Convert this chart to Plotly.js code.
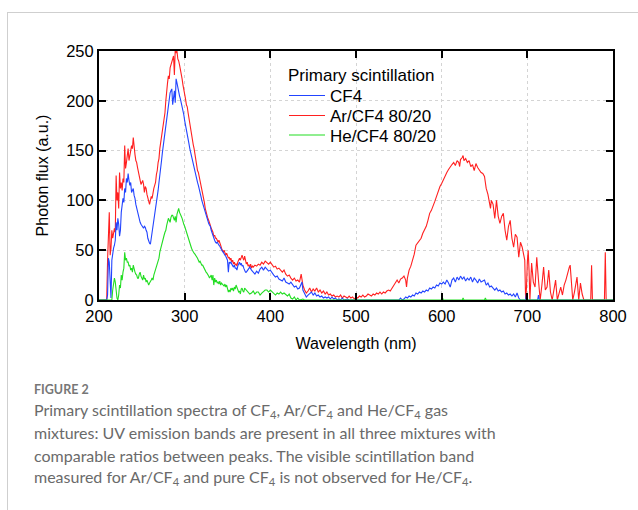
<!DOCTYPE html>
<html>
<head>
<meta charset="utf-8">
<script src="https://cdn.plot.ly/plotly-3.0.1.min.js"></script>
<style>
html,body{margin:0;padding:0;background:#fff;}
#chart{width:638px;height:510px;}
#frame{position:absolute;left:7px;top:12px;width:700px;height:600px;border-left:1px solid #cfcfcf;border-top:1px solid #cfcfcf;pointer-events:none;}
</style>
</head>
<body>
<div id="chart"></div>
<div id="frame"></div>
<script>
// Wavelength (nm) and photon flux (a.u.)
const wl_ar = [200,209,210,211,212,213,214,215,216,218,219,220,221,222,223,224,225,226,227,228,229,230,231,232,233,234,235,236,237,238,239,240,241,242,243,244,245,246,247,248,249,250,251,252,253,254,255,256,257,258,259,260,261,262,263,264,265,266,267,268,269,270,271,272,273,274,275,276,277,278,279,280,281,282,283,284,285,286,287,288,289,290,291,292,293,294,295,296,297,298,299,300,301,302,303,304,305,306,307,308,309,310,311,312,313,314,315,316,317,318,319,320,321,322,323,324,325,326,327,328,329,330,331,332,333,334,335,336,337,338,339,340,341,342,343,344,345,346,347,348,349,350,351,352,353,354,355,356,357,358,359,360,361,362,363,364,365,366,367,368,369,370,371,372,373,374,375,376,377,378,379,380,382,384,386,388,390,392,394,396,398,400,402,404,406,408,410,412,414,416,418,420,422,424,426,428,430,432,434,436,438,440,442,444,446,448,450,452,454,456,458,460,462,464,466,468,470,472,474,476,478,480,482,484,486,488,490,492,494,496,498,500,502,504,506,508,510,512,514,516,518,520,522,524,526,528,530,532,534,536,538,540,542,544,546,548,550,552,554,556,558,559,560,562,564,566,568,570,572,574,576,578,580,582,584,586,588,590,592,594,596,598,600,602,604,606,608,610,612,614,616,618,620,621,622,624,625,626,628,630,632,634,636,638,640,642,644,646,648,650,651,652,654,656,657,658,660,662,664,666,668,670,672,674,676,678,680,682,684,686,688,690,692,694,696,697,698,699,700,701,702,703,705,707,709,711,713,715,717,719,721,723,725,727,729,731,733,735,737,739,741,743,745,747,749,750,751,753,755,757,758,760,762,764,766,774,775,776,790,791,792,800];
const flux_ar = [0,0,40,60,88,45,52,70,62,72,68,125,100,108,92,128,112,118,110,122,118,155,132,138,150,152,140,148,150,155,152,163,150,146,140,138,133,128,124,122,116,118,120,116,108,114,112,106,102,98,96,100,104,102,110,112,115,118,126,130,138,142,152,158,165,170,178,182,188,200,212,218,225,222,233,236,239,242,245,226,252,248,250,242,240,236,232,228,222,216,212,206,202,196,194,188,182,176,172,166,162,156,152,146,140,135,130,128,124,120,115,110,106,104,98,92,88,85,82,80,78,75,72,70,68,64,65,62,62,60,58,60,58,55,52,50,48,50,46,45,47,44,42,43,40,42,38,40,36,38,35,36,34,38,40,42,40,44,45,42,40,44,38,36,38,34,35,33,36,32,34,33,35,34,36,35,38,36,39,37,36,38,35,33,34,31,32,30,28,30,26,24,25,22,20,22,19,20,18,26,15,10,7,9,12,8,11,9,12,8,10,7,9,6,8,5,6,4,5,3,4,3,5,2,4,3,2,4,2,3,1,3,2,4,3,5,3,4,6,5,4,6,5,7,6,8,6,8,7,9,10,9,12,14,18,20,17,21,22,24,20,13,22,30,34,40,46,55,57,60,62,67,70,74,80,87,90,94,99,104,110,114,117,121,125,128,131,134,136,138,135,140,138,134,141,143,145,140,142,138,140,134,136,130,137,133,130,128,127,124,118,112,106,96,92,100,96,82,100,84,77,84,87,70,60,74,80,62,53,66,63,43,58,53,46,40,0,12,38,50,30,0,37,18,13,43,20,0,15,33,10,13,30,8,0,12,20,0,8,13,5,15,20,28,33,35,22,0,8,18,23,0,17,6,0,0,35,0,0,48,0,0];

const wl_cf4 = [200,209,210,211,212,213,214,215,216,217,218,219,220,221,222,223,224,225,226,227,228,229,230,231,232,233,234,235,236,237,238,239,240,241,242,243,244,245,246,247,248,249,250,251,252,253,254,255,256,257,258,259,260,261,262,263,264,265,266,267,268,269,270,271,272,273,274,275,276,277,278,279,280,281,282,283,284,285,286,287,288,289,290,291,292,293,294,295,296,297,298,299,300,301,302,303,304,305,306,307,308,309,310,311,312,313,314,315,316,317,318,319,320,321,322,323,324,325,326,327,328,329,330,331,332,333,334,335,336,337,338,339,340,341,342,343,344,345,346,347,348,349,350,351,352,353,354,355,356,357,358,359,360,361,362,363,364,365,366,367,368,369,370,371,372,374,376,378,380,382,384,386,388,390,392,394,396,398,400,402,404,406,408,410,412,414,416,418,420,422,424,426,428,430,432,434,436,437,438,440,442,444,446,448,450,452,454,456,458,460,462,464,466,468,470,472,474,476,478,480,482,484,486,490,492,500,550,552,554,556,558,560,562,564,566,568,570,572,574,576,578,580,582,584,586,588,590,592,594,596,598,600,602,604,606,608,610,612,614,616,618,620,622,624,626,628,630,632,634,636,638,640,642,644,646,648,650,652,654,656,658,660,662,664,666,668,670,672,674,676,678,680,682,684,686,688,690,692,698,699,700,712,713,714,800];
const flux_cf4 = [0,0,5,42,38,20,2,40,48,52,55,60,78,70,82,76,64,70,88,95,102,98,112,108,122,118,127,120,115,118,108,110,112,105,102,96,92,88,85,80,78,76,75,73,72,74,73,70,68,62,58,57,56,62,65,72,75,82,88,95,102,110,118,124,132,140,148,155,162,168,176,182,190,195,202,208,210,212,196,205,210,198,222,218,212,208,205,202,198,195,192,186,180,176,172,166,162,157,152,148,144,139,135,131,128,125,122,118,115,112,108,104,100,97,94,91,88,84,82,80,77,75,74,70,67,65,63,60,58,57,58,56,55,54,52,50,49,48,46,45,44,42,40,28,38,37,38,36,35,33,35,32,32,30,34,36,38,35,37,34,35,32,30,28,28,30,33,30,28,26,29,27,31,33,30,33,31,29,30,27,25,23,24,21,20,19,22,18,17,16,18,15,13,14,11,12,15,18,10,6,3,5,7,8,5,7,4,5,3,4,2,3,2,3,1,3,1,2,0,1,0,2,0,1,0,0,0,2,0,1,3,2,4,3,5,4,7,6,8,7,9,8,10,9,12,11,13,12,15,14,17,16,18,16,20,17,13,20,22,18,23,20,24,21,23,19,22,20,23,18,22,20,17,21,18,19,20,15,17,13,14,12,10,12,9,10,8,9,6,7,5,6,4,6,3,7,2,0,0,7,0,0,5,0,0];

const wl_he = [200,215,216,217,218,219,220,221,222,223,224,225,226,227,228,229,230,231,232,233,234,235,236,237,238,239,240,241,242,243,244,245,246,247,248,249,250,251,252,253,254,255,256,257,258,259,260,261,262,263,264,265,266,267,268,269,270,271,272,273,274,275,276,277,278,279,280,281,282,283,284,285,286,287,288,289,290,291,292,293,294,295,296,297,298,299,300,301,302,303,304,305,306,307,308,309,310,311,312,313,314,315,316,317,318,319,320,321,322,323,324,325,326,327,328,329,330,331,332,333,334,335,336,337,338,339,340,341,342,343,344,345,346,347,348,349,350,351,352,353,354,355,356,357,358,359,360,361,362,363,364,365,366,367,368,369,370,372,374,376,378,380,382,384,386,388,390,392,394,396,398,400,402,404,406,408,410,412,414,416,418,420,422,424,426,428,430,432,434,438,440,600,601,602,624,625,626,650,651,652,800];
const flux_he = [0,0,10,15,22,18,8,2,0,5,15,12,25,20,28,32,48,40,42,38,38,34,35,30,32,28,35,30,28,26,25,22,22,26,28,24,22,20,25,21,22,18,20,16,15,17,18,20,22,20,25,28,32,34,38,40,42,48,52,55,58,62,65,68,70,75,78,82,80,78,83,85,85,82,80,84,78,86,90,92,88,85,84,82,78,76,74,71,68,66,62,60,58,55,52,50,48,47,46,45,44,42,40,38,39,36,35,35,33,32,30,28,27,26,24,22,23,25,20,25,15,22,18,20,17,18,16,19,15,17,16,15,14,16,13,15,12,8,10,8,12,10,12,9,13,11,15,12,10,8,9,6,11,12,9,8,12,10,9,6,7,9,6,8,8,5,7,9,10,10,8,10,8,7,5,7,6,8,6,7,5,4,6,2,1,3,0,2,0,1,0,0,2,0,0,2,0,0,2,0,0];

const seriesNames = ['CF4', 'Ar/CF4 80/20', 'He/CF4 80/20'];
const legendTitle = 'Primary scintillation';
const xTicks = [200, 300, 400, 500, 600, 700, 800];
const yTicks = [0, 50, 100, 150, 200, 250];

const traces = [
  {x: wl_ar, y: flux_ar, name: seriesNames[1], legend: 'legend2', type: 'scatter', mode: 'lines', line: {color: '#ff2020', width: 1.1}},
  {x: wl_cf4, y: flux_cf4, name: seriesNames[0], legend: 'legend', type: 'scatter', mode: 'lines', line: {color: '#2244ff', width: 1.1}},
  {x: wl_he, y: flux_he, name: seriesNames[2], legend: 'legend3', type: 'scatter', mode: 'lines', line: {color: '#22dd22', width: 1.1}}
];

const FW = 514, FH = 249, L = 99, T = 51;
const px = v => (v - L) / FW;
const py = v => (T + FH - v) / FH;

const sansFont = '"Liberation Sans", Arial, sans-serif';
const capFont = {family: 'Lato, "Open Sans", sans-serif', size: 16, color: '#6a6a6a'};
const capLines = [
  'Primary scintillation spectra of CF<sub>4</sub>, Ar/CF<sub>4</sub> and He/CF<sub>4</sub> gas',
  'mixtures: UV emission bands are present in all three mixtures with',
  'comparable ratios between peaks. The visible scintillation band',
  'measured for Ar/CF<sub>4</sub> and pure CF<sub>4</sub> is not observed for He/CF<sub>4</sub>.'
];
const capY = [410, 432.5, 455, 477.5];
const annotations = [{
  text: 'FIGURE 2', xref: 'paper', yref: 'paper', x: px(32), y: py(389),
  xanchor: 'left', yanchor: 'middle', showarrow: false,
  font: {family: 'Lato, "Open Sans", sans-serif', size: 12.5, color: '#777777', weight: 'bold'}
}, {
  text: legendTitle, xref: 'paper', yref: 'paper', x: px(286), y: py(75.5),
  xanchor: 'left', yanchor: 'middle', showarrow: false,
  font: {family: sansFont, size: 17, color: '#000'}
}];
capLines.forEach((t, i) => annotations.push({
  text: t, xref: 'paper', yref: 'paper', x: px(32), y: py(capY[i]),
  xanchor: 'left', yanchor: 'middle', showarrow: false, font: capFont
}));

const axisCommon = {
  showline: true, linecolor: '#000', linewidth: 2, mirror: 'ticks',
  ticks: 'inside', ticklen: 7, tickwidth: 2, tickcolor: '#000',
  showgrid: true, gridcolor: '#d4d4d4', gridwidth: 1, griddash: 'dot',
  zeroline: false, tickfont: {family: sansFont, size: 16.5, color: '#000'}
};

const legendBase = {
  x: px(284), xanchor: 'left', yanchor: 'middle', itemwidth: 36,
  bgcolor: 'rgba(0,0,0,0)', borderwidth: 0,
  font: {family: sansFont, size: 17, color: '#000'}
};

const layout = {
  width: 638, height: 510,
  margin: {l: L, r: 638 - L - FW, t: T, b: 510 - T - FH},
  paper_bgcolor: 'rgba(0,0,0,0)', plot_bgcolor: '#fff',
  showlegend: true,
  legend: Object.assign({}, legendBase, {y: py(96)}),
  legend2: Object.assign({}, legendBase, {y: py(116)}),
  legend3: Object.assign({}, legendBase, {y: py(135.5)}),
  xaxis: Object.assign({}, axisCommon, {
    range: [200, 800], tickvals: xTicks, ticktext: xTicks.map(String),
    title: {text: 'Wavelength (nm)', standoff: 14, font: {family: sansFont, size: 16, color: '#000'}}
  }),
  yaxis: Object.assign({}, axisCommon, {
    range: [0, 250], tickvals: yTicks, ticktext: yTicks.map(String),
    title: {text: 'Photon flux (a.u.)', standoff: 14, font: {family: sansFont, size: 16, color: '#000'}}
  }),
  annotations: annotations
};

Plotly.newPlot('chart', traces, layout, {displayModeBar: false, staticPlot: true});
</script>
</body>
</html>
